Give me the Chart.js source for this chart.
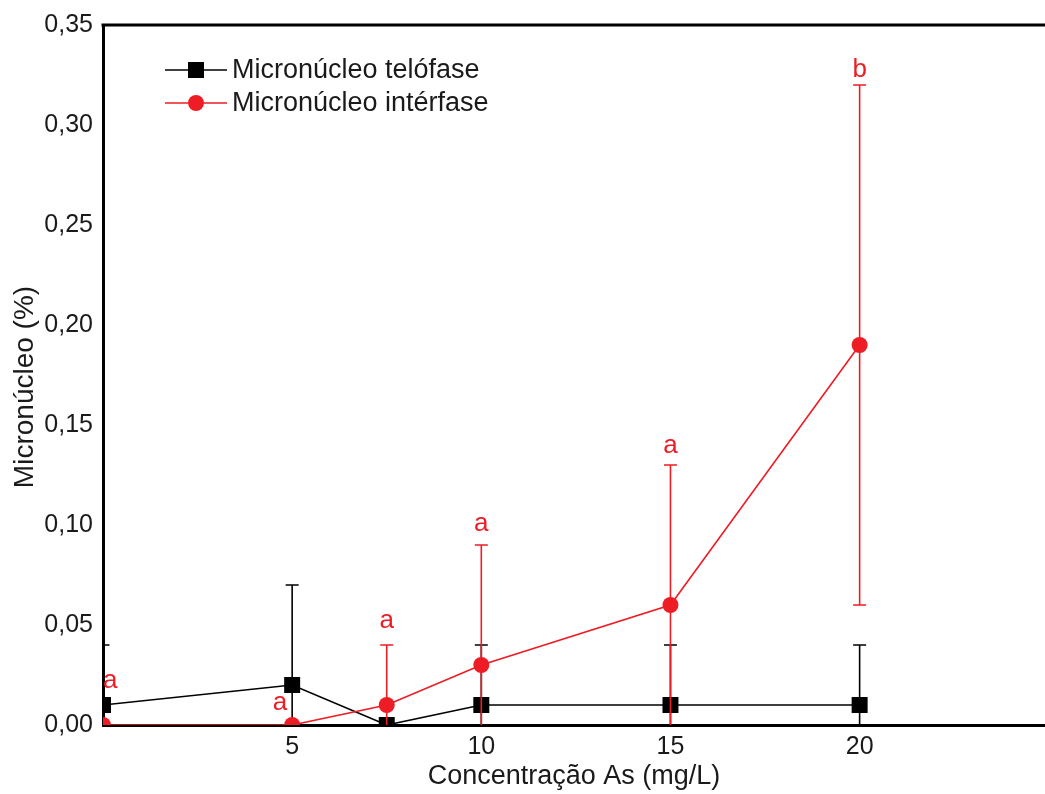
<!DOCTYPE html>
<html>
<head>
<meta charset="utf-8">
<script src="https://cdn.jsdelivr.net/npm/chart.js@4"></script>
<style>
  html, body { margin: 0; padding: 0; background: #fff; overflow: hidden; }
  #wrap { width: 1045px; height: 794px; }
</style>
</head>
<body>
<div id="wrap"><canvas id="chart" width="1045" height="794"></canvas></div>
<script>
const conc = [0, 5, 7.5, 10, 15, 20];
const telofase = [0.01, 0.02, 0, 0.01, 0.01, 0.01];
const telofaseErr = [0.03, 0.05, 0, 0.03, 0.03, 0.03];
const interfase = [0, 0, 0.01, 0.03, 0.06, 0.19];
const interfaseErr = [0, 0, 0.03, 0.06, 0.07, 0.13];
const xTicks = [5, 10, 15, 20];
const letters = ['a', 'a', 'a', 'a', 'a', 'b'];
const letterX = [0.19, 4.68, 7.5, 10, 15, 20];
const letterY = [0.0185, 0.0075, 0.0485, 0.097, 0.136, 0.324];

const RED = '#ee1c25';
const FONT = '"Liberation Sans", Arial, sans-serif';

// error bars, drawn right after each dataset
const errorBars = {
    id: 'errorBars',
    afterDatasetDraw(chart, args) {
        const ds = chart.data.datasets[args.index];
        if (!ds.err) return;
        const { ctx, chartArea, scales: { x, y } } = chart;
        ctx.save();
        ctx.beginPath();
        ctx.rect(chartArea.left, chartArea.top, chartArea.right - chartArea.left, chartArea.bottom - chartArea.top);
        ctx.clip();
        ctx.strokeStyle = ds.borderColor;
        ctx.lineWidth = 1.6;
        ds.data.forEach((p, i) => {
            const e = ds.err[i];
            if (!e) return;
            const px = x.getPixelForValue(p.x);
            const top = y.getPixelForValue(p.y + e);
            const bot = y.getPixelForValue(p.y - e);
            ctx.beginPath();
            ctx.moveTo(px, top);
            ctx.lineTo(px, bot);
            ctx.moveTo(px - 6.5, top);
            ctx.lineTo(px + 6.5, top);
            ctx.moveTo(px - 6.5, bot);
            ctx.lineTo(px + 6.5, bot);
            ctx.stroke();
        });
        ctx.restore();
    }
};

// top frame line, y title, significance letters and legend
const extras = {
    id: 'extras',
    afterDraw(chart) {
        const { ctx, chartArea, scales: { x, y } } = chart;
        ctx.save();
        ctx.strokeStyle = '#000';
        ctx.lineWidth = 3;
        ctx.beginPath();
        ctx.moveTo(chartArea.left - 1.5, chartArea.top);
        ctx.lineTo(chartArea.right, chartArea.top);
        ctx.stroke();

        ctx.save();
        ctx.translate(25, 387);
        ctx.rotate(-Math.PI / 2);
        ctx.fillStyle = '#1a1a1a';
        ctx.font = '28px ' + FONT;
        ctx.textAlign = 'center';
        ctx.textBaseline = 'middle';
        ctx.fillText('Micronúcleo (%)', 0, 0);
        ctx.restore();

        ctx.fillStyle = RED;
        ctx.font = '26px ' + FONT;
        ctx.textAlign = 'center';
        ctx.textBaseline = 'alphabetic';
        letters.forEach((t, i) => {
            ctx.fillText(t, x.getPixelForValue(letterX[i]), y.getPixelForValue(letterY[i]));
        });

        // legend
        const rows = [70, 103];
        ctx.font = '27px ' + FONT;
        chart.data.datasets.forEach((ds, i) => {
            const ly = rows[i];
            ctx.strokeStyle = ds.borderColor;
            ctx.lineWidth = 1.6;
            ctx.beginPath();
            ctx.moveTo(165, ly);
            ctx.lineTo(227, ly);
            ctx.stroke();
            ctx.fillStyle = ds.borderColor;
            if (ds.pointStyle === 'rect') {
                ctx.fillRect(188, ly - 8, 16, 16);
            } else {
                ctx.beginPath();
                ctx.arc(196, ly, 8, 0, Math.PI * 2);
                ctx.fill();
            }
            ctx.fillStyle = '#1a1a1a';
            ctx.textAlign = 'left';
            ctx.textBaseline = 'middle';
            ctx.fillText(ds.label, 232, ly + 1);
        });
        ctx.restore();
    }
};

new Chart(document.getElementById('chart'), {
    type: 'line',
    data: {
        datasets: [{
            label: 'Micronúcleo telófase',
            data: conc.map((c, i) => ({ x: c, y: telofase[i] })),
            err: telofaseErr,
            borderColor: '#000',
            backgroundColor: '#000',
            borderWidth: 1.6,
            pointStyle: 'rect',
            pointRadius: 11.3,
            pointBorderWidth: 0,
            clip: 0,
            order: 1
        }, {
            label: 'Micronúcleo intérfase',
            data: conc.map((c, i) => ({ x: c, y: interfase[i] })),
            err: interfaseErr,
            borderColor: RED,
            backgroundColor: RED,
            borderWidth: 1.6,
            pointStyle: 'circle',
            pointRadius: 8,
            pointBorderWidth: 0,
            clip: 0,
            order: 0
        }]
    },
    options: {
        responsive: false,
        animation: false,
        layout: { autoPadding: false, padding: { top: 25, right: 0, left: 0, bottom: 0 } },
        plugins: { legend: { display: false }, tooltip: { enabled: false } },
        scales: {
            x: {
                type: 'linear',
                min: 0,
                max: 24.9,
                grid: { display: false, drawTicks: false },
                border: { display: true, color: '#000', width: 3 },
                afterBuildTicks: (s) => { s.ticks = xTicks.map(v => ({ value: v })); },
                afterFit: (s) => { s.height = 69; s.paddingLeft = 0; s.paddingRight = 0; },
                ticks: { color: '#1a1a1a', padding: 7, font: { family: FONT, size: 25 } },
                title: {
                    display: true,
                    text: 'Concentração As (mg/L)',
                    color: '#1a1a1a',
                    padding: { top: 1, bottom: 1 },
                    font: { family: FONT, size: 27 }
                }
            },
            y: {
                min: 0,
                max: 0.35,
                grid: { display: false, drawTicks: false },
                border: { display: true, color: '#000', width: 3 },
                afterFit: (s) => { s.width = 103; s.paddingTop = 0; s.paddingBottom = 0; },
                ticks: {
                    stepSize: 0.05,
                    color: '#1a1a1a',
                    padding: 10,
                    font: { family: FONT, size: 25 },
                    callback: (v) => v.toFixed(2).replace('.', ',')
                },
                title: { display: false }
            }
        }
    },
    plugins: [errorBars, extras]
});
</script>
</body>
</html>
